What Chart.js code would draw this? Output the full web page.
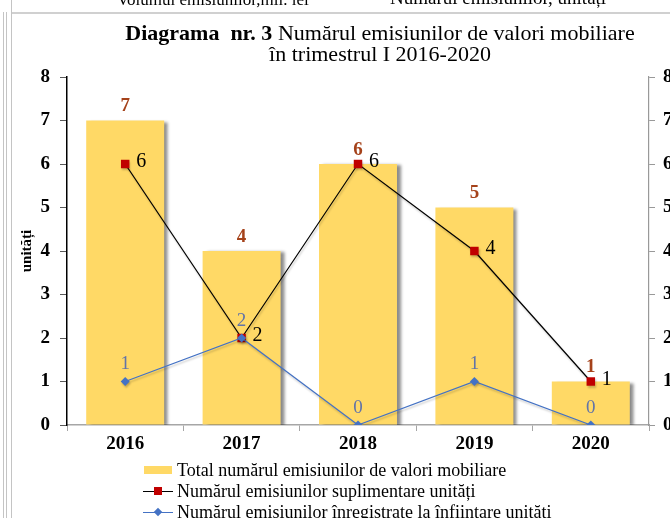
<!DOCTYPE html>
<html lang="ro">
<head>
    <meta charset="UTF-8">
    <title>Diagrama nr. 3</title>
    <style>
        html, body {
            margin: 0;
            padding: 0;
            background: #ffffff;
            overflow: hidden;
        }

        .page {
            position: relative;
            width: 670px;
            height: 518px;
            overflow: hidden;
            font-family: "Liberation Serif", "Times New Roman", serif;
            color: #000;
        }

        canvas {
            position: absolute;
            left: 0;
            top: 0;
        }

        .top-strip {
            position: absolute;
            top: -12px;
            left: 0;
            width: 670px;
            font-size: 19px;
            line-height: 19px;
            white-space: nowrap;
        }

        .top-strip span {
            position: absolute;
        }

        .hline {
            position: absolute;
            left: 11px;
            top: 12px;
            width: 660px;
            height: 2px;
            background: #d0d0d0;
        }

        .vline {
            position: absolute;
            width: 1px;
            background: #c4c4c4;
        }

        .title {
            position: absolute;
            left: 100px;
            top: 22px;
            width: 560px;
            text-align: center;
            font-size: 22px;
            line-height: 21px;
            white-space: nowrap;
        }

        .legend {
            position: absolute;
            left: 143px;
            top: 460px;
            font-size: 18px;
            line-height: 21px;
            white-space: nowrap;
        }

        .legend .item {
            position: relative;
            height: 21px;
            padding-left: 34px;
        }

        .sym-bar {
            position: absolute;
            left: 1px;
            top: 6px;
            width: 28px;
            height: 8px;
            background: #ffd966;
        }

        .sym-line {
            position: absolute;
            left: 0;
            top: 10px;
            width: 30px;
            height: 1px;
        }

        .sym-mark {
            position: absolute;
        }
    </style>
</head>
<body>
<div class="page">
    <canvas id="chart" width="700" height="518"></canvas>

    <div class="top-strip">
        <span style="left:117px; top:2px; font-size:17px">Volumul emisiunilor,mil. lei</span>
        <span style="left:390px">Numărul emisiunilor, unități</span>
    </div>
    <div class="hline"></div>
    <div class="vline" style="left:11px; top:0; height:518px;"></div>
    <div class="vline" style="left:3px; top:12px; height:506px;"></div>
    <div class="vline" style="left:6px; top:12px; height:506px;"></div>

    <div class="title">
        <b>Diagrama&nbsp; nr. 3</b> Numărul emisiunilor de valori mobiliare<br>
        în trimestrul I 2016-2020
    </div>

    <div class="legend">
        <div class="item">
            <div class="sym-bar"></div>
            Total numărul emisiunilor de valori mobiliare
        </div>
        <div class="item">
            <div class="sym-line" style="background:#000"></div>
            <div class="sym-mark" style="left:11px; top:6px; width:8px; height:8px; background:#c00000"></div>
            Numărul emisiunilor suplimentare unități
        </div>
        <div class="item">
            <div class="sym-line" style="background:#4472c4"></div>
            <div class="sym-mark" style="left:12px; top:7px; width:6px; height:6px; background:#4472c4; transform:rotate(45deg)"></div>
            Numărul emisiunilor înregistrate la înființare unități
        </div>
    </div>
</div>

<script src="https://cdn.jsdelivr.net/npm/chart.js"></script>
<script>
    // data
    var years = ['2016', '2017', '2018', '2019', '2020'];
    var totalEmisiuni = [7, 4, 6, 5, 1];
    var suplimentare = [6, 2, 6, 4, 1];
    var infiintare = [1, 2, 0, 1, 0];
    var yMin = 0;
    var yMax = 8;

    Chart.defaults.font.family = '"Liberation Serif", "Times New Roman", serif';
    Chart.defaults.color = '#000';

    // shadows like the excel effect
    var shadowPlugin = {
        id: 'shadows',
        beforeDatasetDraw: function (chart, args) {
            var ctx = chart.ctx;
            ctx.save();
            if (args.index === 0) {
                ctx.shadowColor = 'rgba(0, 0, 0, 0.45)';
                ctx.shadowBlur = 3;
                ctx.shadowOffsetX = 4;
                ctx.shadowOffsetY = 1;
            } else {
                ctx.shadowColor = 'rgba(0, 0, 0, 0.22)';
                ctx.shadowBlur = 2;
                ctx.shadowOffsetX = 1;
                ctx.shadowOffsetY = 2;
            }
        },
        afterDatasetDraw: function (chart) {
            chart.ctx.restore();
        }
    };

    var labelPlugin = {
        id: 'valueLabels',
        afterDatasetsDraw: function (chart) {
            var ctx = chart.ctx;
            ctx.save();
            ctx.textBaseline = 'middle';

            // bars: value above
            chart.getDatasetMeta(0).data.forEach(function (el, i) {
                ctx.font = 'bold 19px "Liberation Serif", serif';
                ctx.fillStyle = '#a5421a';
                ctx.textAlign = 'center';
                ctx.fillText(totalEmisiuni[i], el.x, el.y - 14);
            });

            // suplimentare: value to the right
            chart.getDatasetMeta(1).data.forEach(function (el, i) {
                ctx.font = '20px "Liberation Serif", serif';
                ctx.fillStyle = '#000';
                ctx.textAlign = 'left';
                ctx.fillText(suplimentare[i], el.x + 11, el.y - 2);
            });

            // infiintare: value above
            chart.getDatasetMeta(2).data.forEach(function (el, i) {
                ctx.font = '19px "Liberation Serif", serif';
                ctx.fillStyle = '#6274a8';
                ctx.textAlign = 'center';
                ctx.fillText(infiintare[i], el.x, el.y - 17);
            });
            ctx.restore();
        }
    };

    var tickFont = { size: 19, weight: 'bold' };

    var chart = new Chart(document.getElementById('chart').getContext('2d'), {
        type: 'bar',
        data: {
            labels: years,
            datasets: [{
                label: 'Total numărul emisiunilor de valori mobiliare',
                data: totalEmisiuni,
                backgroundColor: '#ffd966',
                borderWidth: 0,
                barPercentage: 0.67,
                categoryPercentage: 1,
                yAxisID: 'y',
                order: 3
            }, {
                type: 'line',
                label: 'Numărul emisiunilor suplimentare unități',
                data: suplimentare,
                borderColor: '#000',
                borderWidth: 1.2,
                pointStyle: 'rect',
                pointRadius: 6,
                pointBackgroundColor: '#c00000',
                pointBorderWidth: 0,
                tension: 0,
                yAxisID: 'y2',
                order: 2
            }, {
                type: 'line',
                label: 'Numărul emisiunilor înregistrate la înființare unități',
                data: infiintare,
                borderColor: '#4472c4',
                borderWidth: 1.2,
                pointStyle: 'rectRot',
                pointRadius: 4.5,
                pointBackgroundColor: '#4472c4',
                pointBorderWidth: 0,
                tension: 0,
                yAxisID: 'y2',
                order: 1
            }]
        },
        options: {
            responsive: false,
            animation: false,
            layout: {
                padding: { top: 77, bottom: 63, left: 0, right: 0 }
            },
            plugins: {
                legend: { display: false },
                title: { display: false },
                tooltip: { enabled: false }
            },
            scales: {
                x: {
                    offset: true,
                    grid: {
                        offset: true,
                        drawOnChartArea: false,
                        tickLength: 6,
                        color: '#a6a6a6'
                    },
                    border: { color: '#a6a6a6', width: 1.5 },
                    ticks: { font: tickFont, padding: 2 },
                    afterFit: function (scale) { scale.height = 30; }
                },
                y: {
                    position: 'left',
                    min: yMin,
                    max: yMax,
                    ticks: { stepSize: 1, font: tickFont, padding: 10 },
                    grid: {
                        drawOnChartArea: false,
                        tickLength: 7,
                        color: '#595959'
                    },
                    border: { color: '#000', width: 1.5 },
                    title: {
                        display: true,
                        text: 'unități',
                        font: { size: 15, weight: 'bold' },
                        padding: { top: 18, bottom: 0 }
                    },
                    afterFit: function (scale) { scale.width = 67; }
                },
                y2: {
                    position: 'right',
                    min: yMin,
                    max: yMax,
                    ticks: { stepSize: 1, font: tickFont, padding: 8 },
                    grid: {
                        drawOnChartArea: false,
                        tickLength: 6,
                        color: '#999'
                    },
                    border: { color: '#999', width: 1.2 },
                    afterFit: function (scale) { scale.width = 51; }
                }
            }
        },
        plugins: [shadowPlugin, labelPlugin]
    });
</script>
</body>
</html>
